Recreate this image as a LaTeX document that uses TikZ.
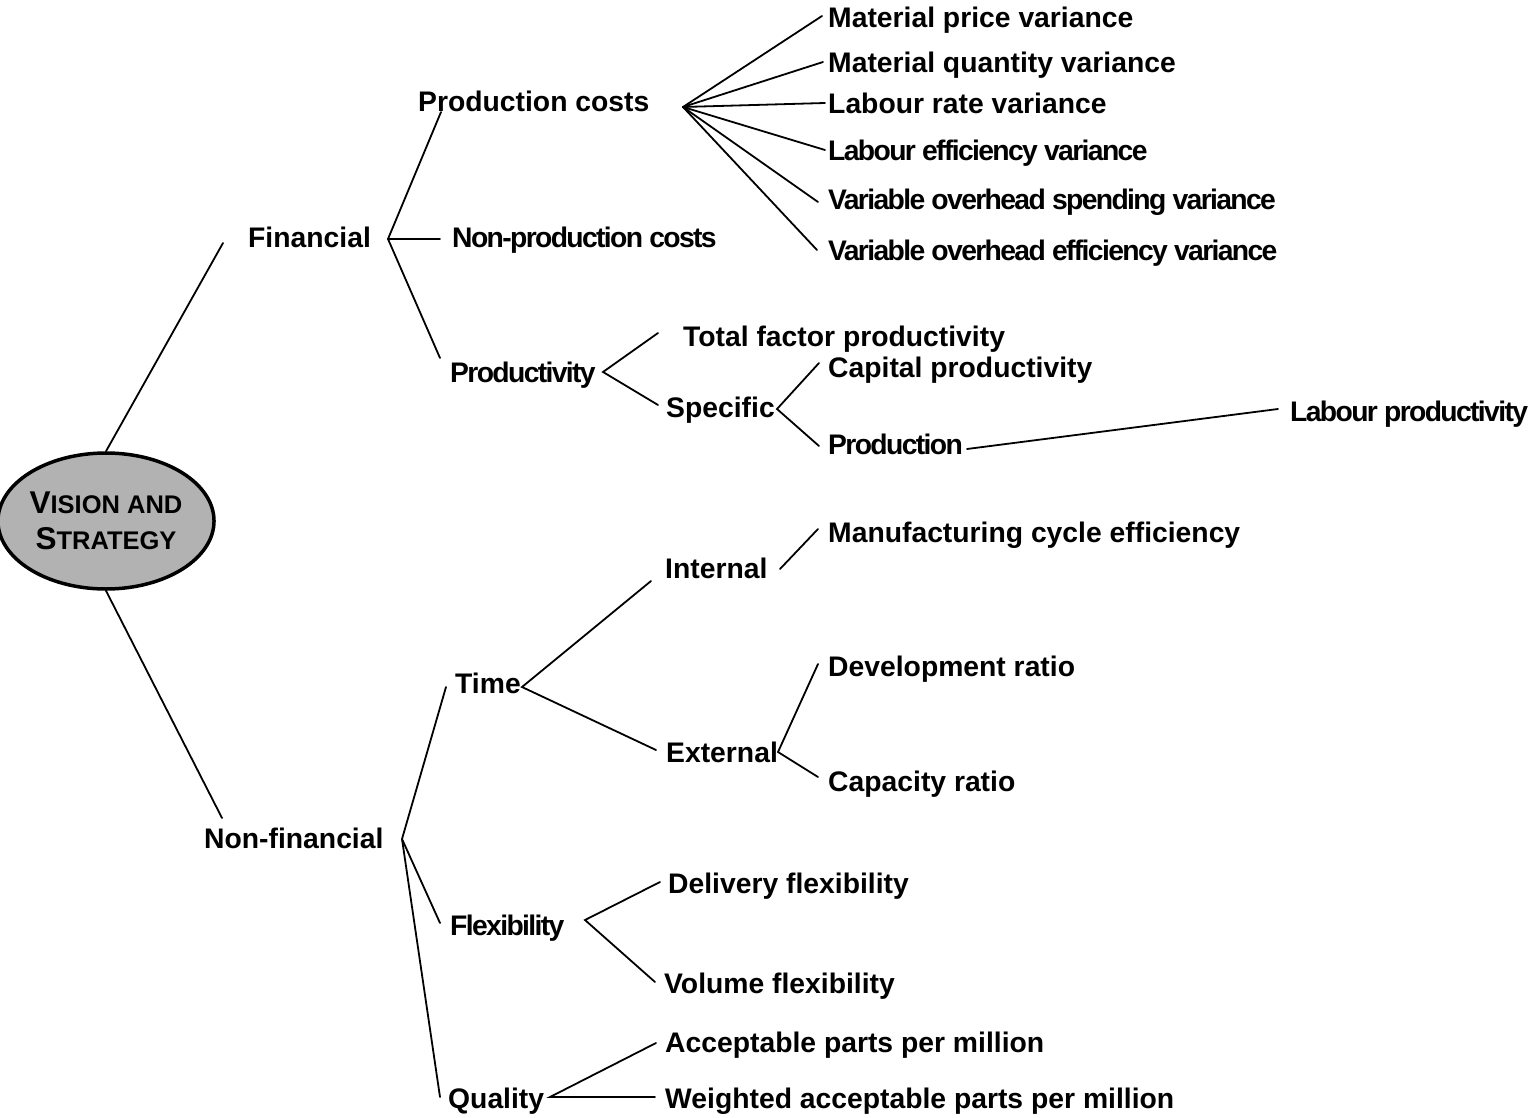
\documentclass[tikz,border=0pt]{standalone}
\usepackage{fontspec}
\setmainfont{Liberation Sans}
\newfontfamily\tightsf{Liberation Sans}[LetterSpace=-5.8]
\usetikzlibrary{shapes.geometric}

\begin{document}
\begin{tikzpicture}[
    x=1pt, y=-1pt,
    lbl/.style={anchor=base west, inner sep=0pt, font=\fontsize{28.3}{30}\selectfont\bfseries},
    tight/.style={lbl, font=\fontsize{28.3}{30}\selectfont\tightsf\bfseries},
    vision/.style={draw, ellipse, line width=3.5pt, fill=black!30, minimum width=204pt, minimum height=136pt, inner sep=0pt, align=center, font=\fontsize{25.5}{36}\selectfont\bfseries},
    branch/.style={line width=1.8pt, line cap=round}
]
\useasboundingbox (0,0) rectangle (1533,1118);

\node[vision] (vs) at (106,521) {{\fontsize{31.5}{36}\selectfont V}ISION AND\\{\fontsize{31.5}{36}\selectfont S}TRATEGY};

\node[lbl] (fin) at (248,247) {Financial};
\node[lbl] (nonfin) at (204,848) {Non-financial};

\node[lbl] (pc) at (418,112) {Production costs};
\node[tight] (npc) at (452,247) {Non-production costs};
\node[tight] (prod) at (450,382) {Productivity};

\node[lbl] (mpv) at (828,28) {Material price variance};
\node[lbl] (mqv) at (828,73) {Material quantity variance};
\node[lbl] (lrv) at (828,114) {Labour rate variance};
\node[tight] (lev) at (828,161) {Labour efficiency variance};
\node[tight] (vosv) at (828,210) {Variable overhead spending variance};
\node[tight] (voev) at (828,260) {Variable overhead efficiency variance};

\node[lbl] (tfp) at (683,346) {Total factor productivity};
\node[lbl] (spec) at (666,417) {Specific};
\node[lbl] (capp) at (828,377) {Capital productivity};
\node[tight] (prodn) at (828,454) {Production};
\node[tight] (labp) at (1290,421) {Labour productivity};

\node[lbl] (time) at (455,693) {Time};
\node[lbl] (int) at (665,578) {Internal};
\node[lbl] (mce) at (828,542) {Manufacturing cycle efficiency};
\node[lbl] (ext) at (666,762) {External};
\node[lbl] (dev) at (828,676) {Development ratio};
\node[lbl] (capr) at (828,791) {Capacity ratio};

\node[tight] (flex) at (450,935) {Flexibility};
\node[lbl] (dflex) at (668,893) {Delivery flexibility};
\node[lbl] (vflex) at (664,993) {Volume flexibility};

\node[lbl] (qual) at (448,1108) {Quality};
\node[lbl] (app) at (665,1052) {Acceptable parts per million};
\node[lbl] (wapp) at (665,1108) {Weighted acceptable parts per million};

\coordinate (jfin) at (388,239);
\coordinate (jnf) at (402,839);
\coordinate (jpc) at (683,107);
\coordinate (jprod) at (603,372);
\coordinate (jspec) at (777,409);
\coordinate (jtime) at (522,687);
\coordinate (jint) at (780,569);
\coordinate (jext) at (778,752);
\coordinate (jflex) at (585,920);
\coordinate (jqual) at (550,1097);

\coordinate (fin-in) at (223,243);
\coordinate (nonfin-in) at (222,818);
\coordinate (pc-in) at (441,112);
\coordinate (npc-in) at (440,239);
\coordinate (prod-in) at (440,358);
\coordinate (mpv-in) at (822,16);
\coordinate (mqv-in) at (823,62);
\coordinate (lrv-in) at (825,103);
\coordinate (lev-in) at (825,150);
\coordinate (vosv-in) at (818,202);
\coordinate (voev-in) at (817,250);
\coordinate (tfp-in) at (658,333);
\coordinate (spec-in) at (658,405);
\coordinate (capp-in) at (819,363);
\coordinate (prodn-in) at (819,446);
\coordinate (prodn-out) at (967,449);
\coordinate (labp-in) at (1278,409);
\coordinate (time-in) at (446,687);
\coordinate (flex-in) at (440,923);
\coordinate (qual-in) at (440,1097);
\coordinate (int-in) at (651,581);
\coordinate (ext-in) at (656,750);
\coordinate (mce-in) at (818,529);
\coordinate (dev-in) at (818,664);
\coordinate (capr-in) at (818,777);
\coordinate (dflex-in) at (660,882);
\coordinate (vflex-in) at (655,982);
\coordinate (app-in) at (656,1043);
\coordinate (wapp-in) at (655,1097);

\draw[branch] (vs.north) -- (fin-in);
\draw[branch] (vs.south) -- (nonfin-in);
\draw[branch] (pc-in) -- (jfin) -- (prod-in);
\draw[branch] (jfin) -- (npc-in);
\foreach \n in {mpv,mqv,lrv,lev,vosv,voev}
    \draw[branch] (jpc) -- (\n-in);
\draw[branch] (tfp-in) -- (jprod) -- (spec-in);
\draw[branch] (capp-in) -- (jspec) -- (prodn-in);
\draw[branch] (prodn-out) -- (labp-in);
\draw[branch] (time-in) -- (jnf) -- (qual-in);
\draw[branch] (jnf) -- (flex-in);
\draw[branch] (int-in) -- (jtime) -- (ext-in);
\draw[branch] (jint) -- (mce-in);
\draw[branch] (dev-in) -- (jext) -- (capr-in);
\draw[branch] (dflex-in) -- (jflex) -- (vflex-in);
\draw[branch] (app-in) -- (jqual) -- (wapp-in);
\end{tikzpicture}
\end{document}
